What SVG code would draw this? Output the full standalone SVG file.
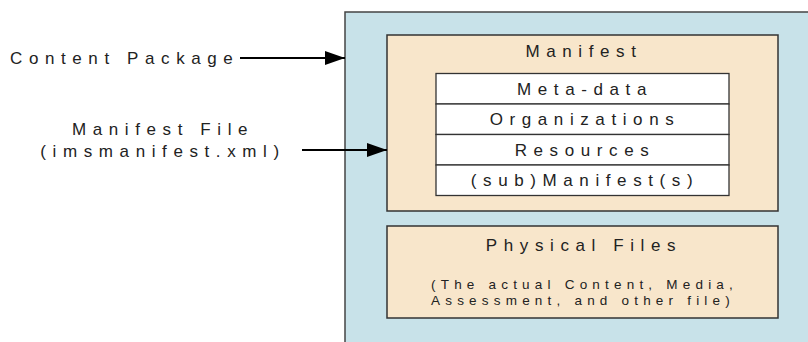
<svg xmlns="http://www.w3.org/2000/svg" width="808" height="342" viewBox="0 0 808 342">
<defs>
<marker id="ah" markerUnits="userSpaceOnUse" markerWidth="22" markerHeight="14" refX="20" refY="7" orient="auto">
<path d="M0,0 L20,7 L0,14 Z" fill="#000"/>
</marker>
<style>
text{font-family:"Liberation Sans",Arial,sans-serif;fill:#222;}
.big{font-size:17px;letter-spacing:6.6px;}
.small{font-size:13.5px;letter-spacing:5.2px;}
.mid{text-anchor:middle;}
.box{fill:#f8e6cb;stroke:#333;stroke-width:1.5;}
.row{fill:#fff;stroke:#333;stroke-width:1.3;}
.conn{stroke:#000;stroke-width:2;fill:none;marker-end:url(#ah);}
</style>
</defs>
<rect id="bg" width="808" height="342" fill="#fff"/>
<g id="content-package">
<rect x="345" y="12" width="480" height="345" fill="#c8e2e9" stroke="#444" stroke-width="1.5"/>
</g>
<g id="label-content-package">
<text class="big" x="10" y="63.5">Content Package</text>
</g>
<g id="label-manifest-file">
<text class="big mid" x="163" y="135">Manifest File</text>
<text class="big mid" x="163" y="157">(imsmanifest.xml)</text>
</g>
<g id="manifest">
<rect class="box" x="387" y="35" width="391" height="176"/>
<text class="big mid" x="584" y="57">Manifest</text>
</g>
<g id="manifest-table">
<rect class="row" x="436" y="73.5" width="293" height="30.5"/>
<rect class="row" x="436" y="104" width="293" height="30.5"/>
<rect class="row" x="436" y="134.5" width="293" height="30.5"/>
<rect class="row" x="436" y="165" width="293" height="30.5"/>
<text class="big mid" x="585" y="95">Meta-data</text>
<text class="big mid" x="585" y="125">Organizations</text>
<text class="big mid" x="585" y="156">Resources</text>
<text class="big mid" x="585" y="186">(sub)Manifest(s)</text>
</g>
<g id="physical-files">
<rect class="box" x="387" y="226" width="391" height="92"/>
<text class="big mid" x="584" y="251">Physical Files</text>
<text class="small" x="431" y="288.5">(The actual Content, Media,</text>
<text class="small" x="431" y="304.5">Assessment, and other file)</text>
</g>
<g id="connectors">
<line class="conn" x1="240" y1="58" x2="345" y2="58"/>
<line class="conn" x1="302" y1="150" x2="387" y2="150"/>
</g>
</svg>
